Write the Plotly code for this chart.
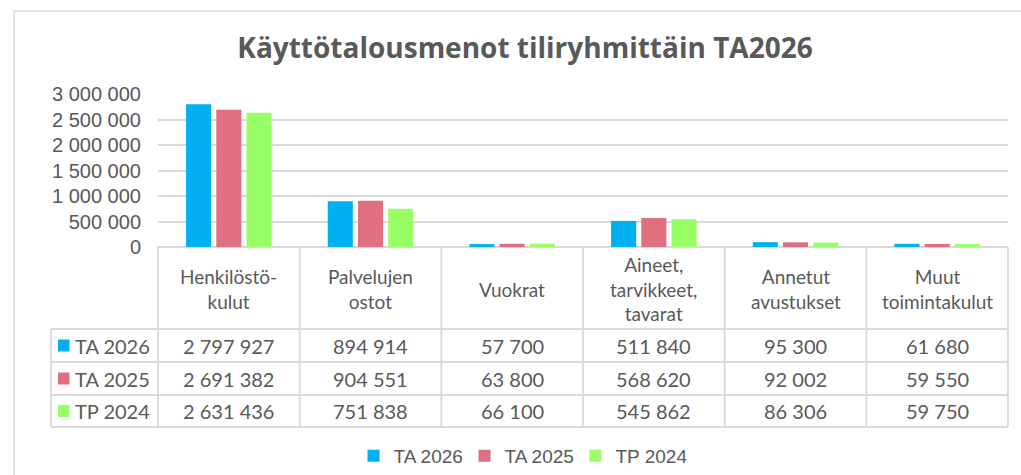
import plotly.graph_objects as go

# ---- data ----
categories = ["Henkilöstö-<br>kulut", "Palvelujen<br>ostot", "Vuokrat",
              "Aineet,<br>tarvikkeet,<br>tavarat", "Annetut<br>avustukset",
              "Muut<br>toimintakulut"]
series_names = ["TA 2026", "TA 2025", "TP 2024"]
ta2026 = [2797927, 894914, 57700, 511840, 95300, 61680]
ta2025 = [2691382, 904551, 63800, 568620, 92002, 59550]
tp2024 = [2631436, 751838, 66100, 545862, 86306, 59750]
y_ticks = [0, 500000, 1000000, 1500000, 2000000, 2500000, 3000000]
title_text = "Käyttötalousmenot tiliryhmittäin TA2026"

# ---- styling ----
colors = ["#00B0F0", "#E07080", "#99FF66"]
W, H = 1021, 475
ML, MR, MT, MB = 158, 13, 94, 228
PW, PH = W - ML - MR, H - MT - MB
TXT = "#595959"
LINE = "#D9D9D9"
TFONT = "Lato"
AFONT = "Liberation Sans"


def px_x(x):
    return (x - ML) / PW


def px_y(y):
    return (MT + PH - y) / PH


series = [ta2026, ta2025, tp2024]
fig = go.Figure()
for name, vals, col in zip(series_names, series, colors):
    fig.add_trace(go.Bar(x=categories, y=vals, name=name, marker_color=col,
                         marker_line_width=0, hoverinfo="skip"))

shapes = []
annotations = []

# chart frame
shapes.append(dict(type="rect", xref="paper", yref="paper",
                   x0=px_x(14), x1=px_x(1040), y0=px_y(11), y1=px_y(500),
                   line=dict(color=LINE, width=1.5), fillcolor="rgba(0,0,0,0)", layer="below"))

# table geometry (pixels)
header_top, header_bot = 247, 329
row_bounds = [329, 362, 395, 427]
left_col = 51
ncat = len(categories)

# horizontal lines
for y in row_bounds:
    shapes.append(dict(type="line", xref="paper", yref="paper",
                       x0=px_x(left_col), x1=1, y0=px_y(y), y1=px_y(y),
                       line=dict(color=LINE, width=1.8)))
# vertical lines across categories
for i in range(ncat + 1):
    shapes.append(dict(type="line", xref="paper", yref="paper",
                       x0=i / ncat, x1=i / ncat, y0=px_y(header_top), y1=px_y(row_bounds[-1]),
                       line=dict(color=LINE, width=1.8)))
shapes.append(dict(type="line", xref="paper", yref="paper",
                   x0=px_x(left_col), x1=px_x(left_col), y0=px_y(row_bounds[0]), y1=px_y(row_bounds[-1]),
                   line=dict(color=LINE, width=1.8)))

# header text
for c in categories:
    annotations.append(dict(x=c, xref="x", y=px_y((header_top + header_bot) / 2 + 1), yref="paper",
                            text=c, showarrow=False, xanchor="center", yanchor="middle",
                            font=dict(family=TFONT, size=19, color=TXT)))


def fmt(v):
    return f"{v:,}".replace(",", " ")


# rows
for r, (name, vals, col) in enumerate(zip(series_names, series, colors)):
    y0, y1 = row_bounds[r], row_bounds[r + 1]
    yc = (y0 + y1) / 2
    shapes.append(dict(type="rect", xref="paper", yref="paper",
                       x0=px_x(58), x1=px_x(69.5), y0=px_y(yc - 6), y1=px_y(yc + 6),
                       fillcolor=col, line=dict(width=0)))
    annotations.append(dict(x=px_x(73), xref="paper", y=px_y(yc), yref="paper",
                            text=name, showarrow=False, xanchor="left", yanchor="middle",
                            font=dict(family=TFONT, size=20, color=TXT)))
    for c, v in zip(categories, vals):
        annotations.append(dict(x=c, xref="x", y=px_y(yc), yref="paper",
                                text=fmt(v), showarrow=False, xanchor="center", yanchor="middle",
                                font=dict(family=TFONT, size=20, color=TXT)))

fig.update_layout(
    width=W, height=H,
    margin=dict(l=ML, r=MR, t=MT, b=MB, pad=0, autoexpand=False),
    paper_bgcolor="white", plot_bgcolor="white",
    barmode="group", bargap=0.36, bargroupgap=0.17,
    separators=", ",
    title=dict(text=title_text, x=525 / W, xanchor="center", y=1 - 48 / H, yanchor="middle",
               xref="container", yref="container",
               font=dict(family="Open Sans", size=28, color=TXT, weight="bold")),
    xaxis=dict(range=[-0.5, ncat - 0.5], showticklabels=False, showgrid=False,
               zeroline=False, showline=False, ticks=""),
    yaxis=dict(range=[0, 3000000], tickvals=y_ticks, tickformat=",d",
               showgrid=True, gridcolor=LINE, gridwidth=1.8,
               zeroline=True, zerolinecolor=LINE, zerolinewidth=1.8,
               ticks="", ticklabelstandoff=16,
               tickfont=dict(family=AFONT, size=20, color=TXT)),
    showlegend=True,
    legend=dict(orientation="h", x=px_x(520), xanchor="center", y=px_y(456), yanchor="middle",
                font=dict(family=AFONT, size=19, color=TXT), traceorder="normal",
                entrywidth=66, entrywidthmode="pixels",
                bgcolor="rgba(0,0,0,0)"),
    shapes=shapes, annotations=annotations,
)

fig.write_html("out.html", config={"displayModeBar": False},
               post_script="document.body.style.margin='0';")
